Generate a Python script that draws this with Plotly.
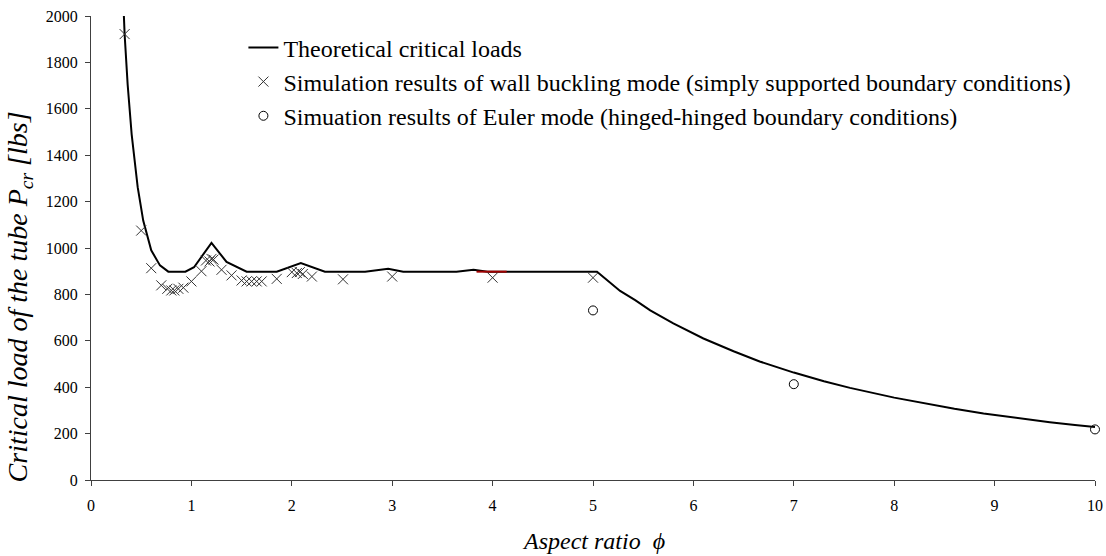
import plotly.graph_objects as go

# Theoretical critical load curve (aspect ratio, load in lbs)
theory_phi = [0.32, 0.335, 0.365, 0.405, 0.465, 0.52, 0.60, 0.687, 0.77, 0.94, 1.026, 1.20,
              1.35, 1.55, 1.85, 2.09, 2.33, 2.73, 2.96, 3.11, 3.64, 3.81, 3.95, 5.04,
              5.27, 5.42, 5.57, 5.80, 6.10, 6.40, 6.66, 7.00, 7.30, 7.56, 8.00, 8.32,
              8.60, 8.89, 9.20, 9.55, 9.80, 10.0]
theory_load = [2080, 1920, 1705, 1490, 1262, 1118, 990, 925, 898, 898, 917, 1022,
               940, 898, 898, 935, 898, 898, 911, 898, 898, 906, 898, 898,
               815, 775, 731, 675, 610, 555, 511, 463, 426, 397, 355, 328,
               307, 287, 268, 249, 237, 228]

# Short overlapping segment of a second theoretical branch
branch_phi = [3.84, 4.14]
branch_load = [898, 898]

# Simulated wall buckling mode (simply supported)
wall_phi = [0.335, 0.5, 0.6, 0.7, 0.76, 0.80, 0.83, 0.87, 0.92, 1.0, 1.10,
            1.145, 1.18, 1.20, 1.22, 1.30, 1.40, 1.50, 1.55, 1.60, 1.65, 1.70,
            1.85, 2.0, 2.05, 2.08, 2.11, 2.20, 2.51, 3.0, 4.0, 5.0]
wall_load = [1922, 1075, 913, 839, 824, 817, 817, 824, 829, 856, 900,
             946, 942, 953, 950, 906, 882, 860, 856, 856, 856, 856,
             867, 896, 892, 896, 888, 877, 865, 877, 872, 872]

# Simulated Euler mode (hinged-hinged)
euler_phi = [5, 7, 10]
euler_load = [731, 413, 218]

x_ticks = list(range(0, 11))
y_ticks = list(range(0, 2001, 200))

serif = "Liberation Serif, Times New Roman, serif"
axis_col = "#404040"

fig = go.Figure()
fig.add_trace(go.Scatter(
    x=theory_phi, y=theory_load, mode="lines",
    line=dict(color="black", width=2),
    name="Theoretical critical loads"))
fig.add_trace(go.Scatter(
    x=branch_phi, y=branch_load, mode="lines",
    line=dict(color="#a00000", width=2),
    showlegend=False, hoverinfo="skip"))
fig.add_trace(go.Scatter(
    x=wall_phi, y=wall_load, mode="markers", cliponaxis=False,
    marker=dict(symbol="x-thin-open", size=10, color="#333333",
                line=dict(color="#333333", width=1)),
    name="Simulation results of wall buckling mode (simply supported boundary conditions)"))
fig.add_trace(go.Scatter(
    x=euler_phi, y=euler_load, mode="markers", cliponaxis=False,
    marker=dict(symbol="circle-open", size=9, color="black",
                line=dict(color="black", width=1)),
    name="Simuation results of Euler mode (hinged-hinged boundary conditions)"))

# Axis titles as free annotations for exact placement
fig.add_annotation(text="<i>Aspect ratio  ϕ</i>", xref="paper", yref="paper",
                   x=0.5, y=-0.131, xanchor="center", yanchor="middle",
                   showarrow=False, font=dict(family=serif, size=24, color="black"))
fig.add_annotation(text="<i>Critical load of the tube P<sub>cr</sub> [lbs]</i>",
                   xref="paper", yref="paper", x=-0.071, y=0.395,
                   xanchor="center", yanchor="middle", textangle=-90,
                   showarrow=False, font=dict(family=serif, size=28, color="black"))

fig.update_layout(
    width=1106, height=556,
    margin=dict(l=91, r=11, t=16, b=76),
    paper_bgcolor="white", plot_bgcolor="white",
    font=dict(family=serif, color="black", size=16),
    showlegend=True,
    legend=dict(x=0.1518, y=0.98, xanchor="left", yanchor="top",
                font=dict(family=serif, size=24, color="black"),
                bgcolor="rgba(0,0,0,0)", itemwidth=30, tracegroupgap=0),
    xaxis=dict(range=[0, 10], tickvals=x_ticks, ticktext=[str(v) for v in x_ticks],
               showgrid=False, zeroline=False, showline=True, linecolor=axis_col,
               linewidth=1.3, ticks="outside", ticklen=5, tickcolor=axis_col,
               ticklabelstandoff=6, automargin=False,
               tickfont=dict(family=serif, size=16, color="black")),
    yaxis=dict(range=[0, 2000], tickvals=y_ticks, ticktext=[str(v) for v in y_ticks],
               showgrid=False, zeroline=False, showline=True, linecolor=axis_col,
               linewidth=1.3, ticks="outside", ticklen=5, tickcolor=axis_col,
               ticklabelstandoff=4, automargin=False,
               tickfont=dict(family=serif, size=16, color="black")),
)

fig.write_html("out.html")
